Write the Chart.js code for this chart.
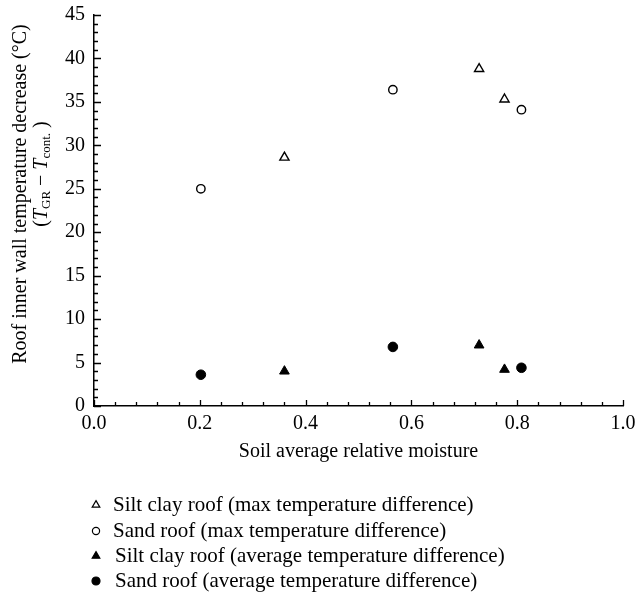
<!DOCTYPE html>
<html><head><meta charset="utf-8">
<script src="https://cdn.jsdelivr.net/npm/chart.js@4/dist/chart.umd.min.js"></script>
<style>html,body{margin:0;padding:0;background:#fff}#wrap{width:636px;height:596px;position:relative}</style>
</head><body><div id="wrap"><canvas id="c" width="636" height="596"></canvas></div>
<script>
// ---- data ----
const seriesLabels = [
  'Silt clay roof (max temperature difference)',
  'Sand roof (max temperature difference)',
  'Silt clay roof (average temperature difference)',
  'Sand roof (average temperature difference)'
];
const siltMaxX = [0.360, 0.728, 0.776];
const siltMaxY = [28.6, 38.8, 35.3];
const sandMaxX = [0.202, 0.565, 0.808];
const sandMaxY = [25.0, 36.4, 34.1];
const siltAvgX = [0.360, 0.728, 0.776];
const siltAvgY = [4.0, 7.0, 4.2];
const sandAvgX = [0.202, 0.565, 0.808];
const sandAvgY = [3.6, 6.8, 4.4];
const xTickValues = [0, 0.2, 0.4, 0.6, 0.8, 1.0];
const yTickValues = [0, 5, 10, 15, 20, 25, 30, 35, 40, 45];
const xTitle = 'Soil average relative moisture';
const yTitleLine1 = 'Roof inner wall temperature decrease (\u00B0C)';

const FONT = '"Liberation Serif", "DejaVu Serif", serif';
const pts = (xs, ys) => xs.map((x, i) => ({x, y: ys[i]}));

const datasets = [
  {label: seriesLabels[0], data: pts(siltMaxX, siltMaxY), pointStyle: 'triangle', pointRadius: 5.3, backgroundColor: '#fff', borderColor: '#000', borderWidth: 1.4},
  {label: seriesLabels[1], data: pts(sandMaxX, sandMaxY), pointStyle: 'circle', pointRadius: 4.2, backgroundColor: '#fff', borderColor: '#000', borderWidth: 1.4},
  {label: seriesLabels[2], data: pts(siltAvgX, siltAvgY), pointStyle: 'triangle', pointRadius: 5.6, backgroundColor: '#000', borderColor: '#000', borderWidth: 1},
  {label: seriesLabels[3], data: pts(sandAvgX, sandAvgY), pointStyle: 'circle', pointRadius: 4.8, backgroundColor: '#000', borderColor: '#000', borderWidth: 1}
];
datasets.forEach(d => { d.showLine = false; d.pointHoverRadius = d.pointRadius; });

const legendMarkers = [
  {pointStyle: 'triangle', radius: 4.4, fill: '#fff'},
  {pointStyle: 'circle', radius: 3.6, fill: '#fff'},
  {pointStyle: 'triangle', radius: 4.4, fill: '#000'},
  {pointStyle: 'circle', radius: 4.0, fill: '#000'}
];

const innerTicks = {
  id: 'innerTicks',
  afterDraw(chart) {
    const ctx = chart.ctx, xs = chart.scales.x, ys = chart.scales.y;
    const a = chart.chartArea;
    ctx.save();
    ctx.strokeStyle = '#000';
    ctx.lineWidth = 1.3;
    ctx.beginPath();
    for (let i = 0; i <= 25; i++) {
      const px = Math.round(xs.getPixelForValue(i * 0.04)) + 0.5;
      const len = i % 5 === 0 ? 6 : 4;
      ctx.moveTo(px, a.bottom); ctx.lineTo(px, a.bottom - len);
    }
    for (let i = 0; i <= 45; i++) {
      const py = Math.round(ys.getPixelForValue(i)) + 0.5;
      const len = i % 5 === 0 ? 7 : 4;
      ctx.moveTo(a.left, py); ctx.lineTo(a.left + len, py);
    }
    ctx.stroke();
    ctx.restore();
  }
};

const yTitle = {
  id: 'yTitle',
  afterDraw(chart) {
    const ctx = chart.ctx;
    ctx.save();
    ctx.fillStyle = '#000';
    ctx.textBaseline = 'middle';
    ctx.save();
    ctx.translate(21, 194);
    ctx.rotate(-Math.PI / 2);
    ctx.font = '20px ' + FONT;
    ctx.textAlign = 'center';
    ctx.fillText(yTitleLine1, 0, 0);
    ctx.restore();
    const parts = [
      {t: '(', f: '20px ' + FONT, dy: 0},
      {t: 'T', f: 'italic 20px ' + FONT, dy: 0},
      {t: 'GR', f: '13px ' + FONT, dy: 5},
      {t: ' \u2212 ', f: '20px ' + FONT, dy: 0},
      {t: 'T', f: 'italic 20px ' + FONT, dy: 0},
      {t: 'cont.', f: '13px ' + FONT, dy: 5},
      {t: ' )', f: '20px ' + FONT, dy: 0}
    ];
    let total = 0;
    parts.forEach(p => { ctx.font = p.f; p.w = ctx.measureText(p.t).width; total += p.w; });
    ctx.save();
    ctx.translate(42, 174);
    ctx.rotate(-Math.PI / 2);
    ctx.textAlign = 'left';
    let x = -total / 2;
    parts.forEach(p => { ctx.font = p.f; ctx.fillText(p.t, x, p.dy); x += p.w; });
    ctx.restore();
    ctx.restore();
  }
};

const customLegend = {
  id: 'customLegend',
  afterDraw(chart) {
    const ctx = chart.ctx;
    const rowsY = [505, 531, 556, 581];
    ctx.save();
    seriesLabels.forEach((lab, i) => {
      const m = legendMarkers[i];
      ctx.fillStyle = m.fill;
      ctx.strokeStyle = '#000';
      ctx.lineWidth = 1.2;
      Chart.helpers.drawPoint(ctx, {pointStyle: m.pointStyle, radius: m.radius, borderWidth: 1.2, rotation: 0}, 96, rowsY[i]);
      ctx.fillStyle = '#000';
      ctx.font = '21px ' + FONT;
      ctx.textAlign = 'left';
      ctx.textBaseline = 'middle';
      ctx.fillText(lab, i < 2 ? 113 : 115, rowsY[i]);
    });
    ctx.restore();
  }
};

new Chart(document.getElementById('c'), {
  type: 'scatter',
  data: {datasets},
  options: {
    responsive: false,
    animation: false,
    devicePixelRatio: 1,
    layout: {padding: {top: 15, right: 13, left: 0, bottom: 132}},
    plugins: {legend: {display: false}, tooltip: {enabled: false}},
    scales: {
      x: {
        type: 'linear', min: 0, max: 1,
        afterBuildTicks: s => { s.ticks = xTickValues.map(v => ({value: v})); },
        afterFit: s => { s.height = 58; s.paddingLeft = 0; s.paddingRight = 0; },
        grid: {display: false, drawTicks: false, tickLength: 0},
        border: {display: true, color: '#000', width: 1.5},
        ticks: {color: '#000', font: {family: FONT, size: 20}, padding: 6, maxRotation: 0,
                callback: v => Number(v).toFixed(1)},
        title: {display: true, text: xTitle, color: '#000', font: {family: FONT, size: 20}, padding: {top: 0, bottom: 0}}
      },
      y: {
        type: 'linear', min: 0, max: 45,
        afterBuildTicks: s => { s.ticks = yTickValues.map(v => ({value: v})); },
        afterFit: s => { s.width = 94; s.paddingTop = 0; s.paddingBottom = 0; },
        grid: {display: false, drawTicks: false, tickLength: 0},
        border: {display: true, color: '#000', width: 1.5},
        ticks: {color: '#000', font: {family: FONT, size: 20}, padding: 9,
                callback: v => String(v)}
      }
    }
  },
  plugins: [innerTicks, yTitle, customLegend]
});
</script>
</body></html>
